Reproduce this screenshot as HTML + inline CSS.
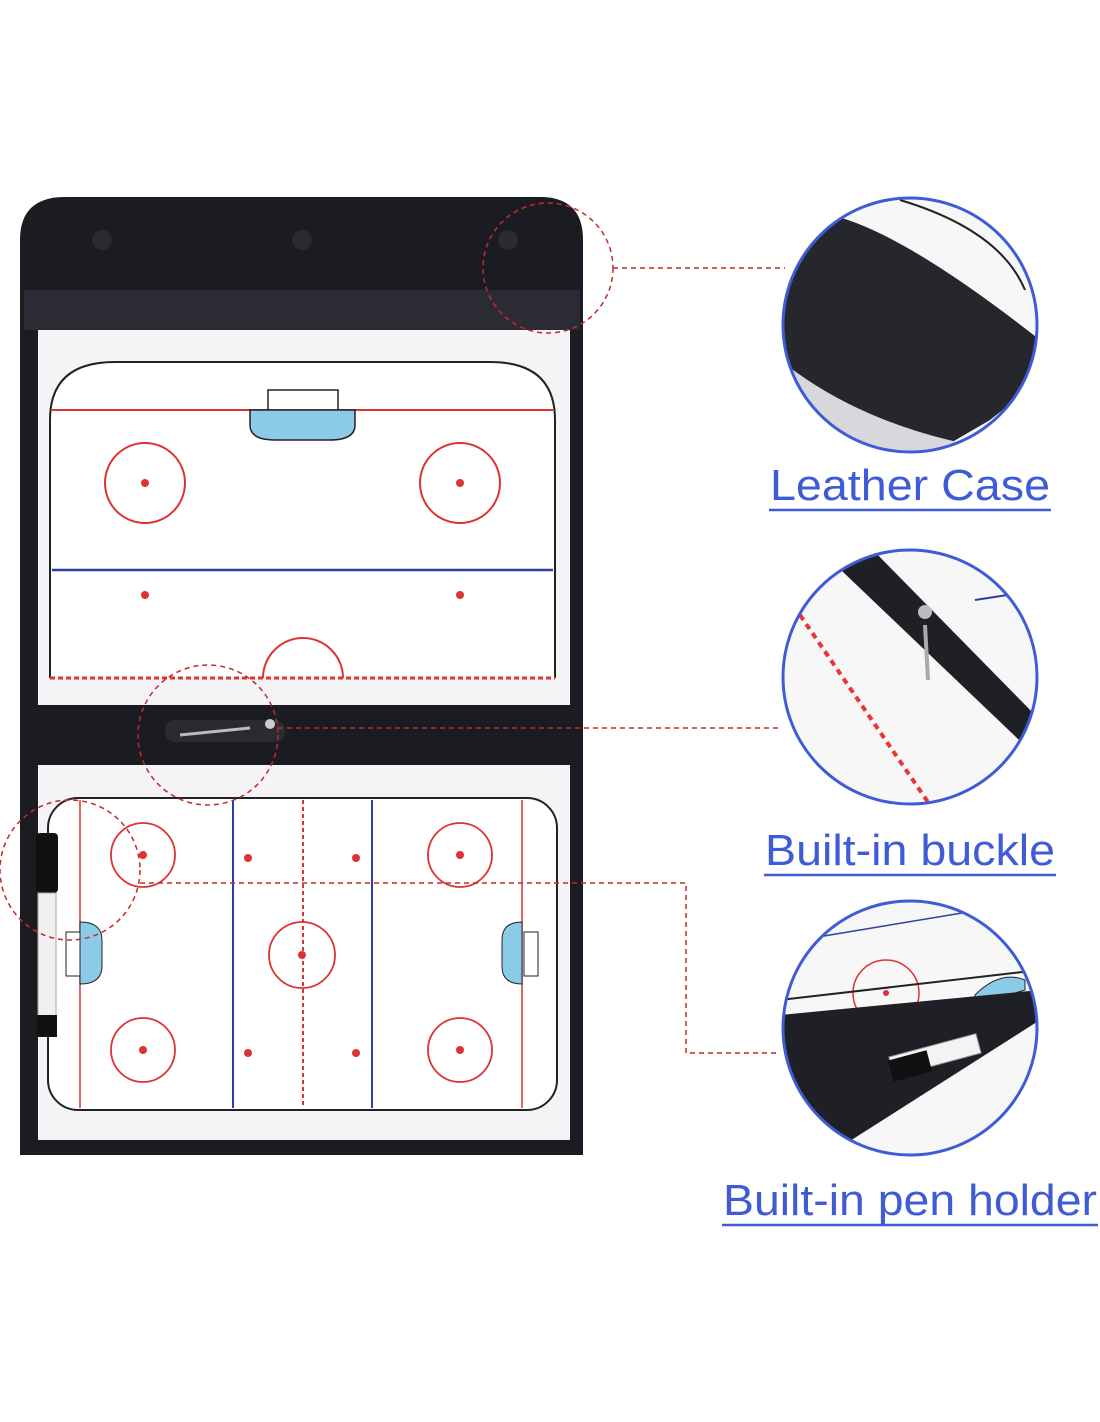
<!DOCTYPE html>
<html><head><meta charset="utf-8"><style>
html,body{margin:0;padding:0;background:#fff;}
svg{display:block}
</style></head><body>
<svg width="1100" height="1422" viewBox="0 0 1100 1422" xmlns="http://www.w3.org/2000/svg" font-family="Liberation Sans, sans-serif">
<defs>
<clipPath id="c1"><circle cx="910" cy="325" r="127"/></clipPath>
<clipPath id="c2"><circle cx="910" cy="677" r="127"/></clipPath>
<clipPath id="c3"><circle cx="910" cy="1028" r="127"/></clipPath>
</defs>
<path d="M20 240 Q20 197 65 197 L540 197 Q583 197 583 240 L583 1155 L20 1155 Z" fill="#1b1c22"/>
<rect x="24" y="290" width="556" height="40" fill="#2b2c33"/>
<circle cx="102" cy="240" r="10" fill="#2a2b31"/><circle cx="302" cy="240" r="10" fill="#2a2b31"/><circle cx="508" cy="240" r="10" fill="#2a2b31"/>
<rect x="38" y="330" width="532" height="375" fill="#f4f4f6"/>
<path d="M50 678 L50 420 Q50 362 115 362 L490 362 Q555 362 555 420 L555 678" fill="#fff" stroke="#222" stroke-width="2"/>
<line x1="52" y1="410" x2="553" y2="410" stroke="#d33" stroke-width="2"/>
<rect x="268" y="390" width="70" height="20" fill="#fff" stroke="#222" stroke-width="1.5"/>
<path d="M250 410 L355 410 L355 425 Q355 440 330 440 L275 440 Q250 440 250 425 Z" fill="#8ccbe8" stroke="#222" stroke-width="1.5"/>
<circle cx="145" cy="483" r="40" fill="none" stroke="#d33" stroke-width="2"/><circle cx="145" cy="483" r="4" fill="#d33"/>
<circle cx="460" cy="483" r="40" fill="none" stroke="#d33" stroke-width="2"/><circle cx="460" cy="483" r="4" fill="#d33"/>
<line x1="52" y1="570" x2="553" y2="570" stroke="#2b3fa6" stroke-width="2.5"/>
<circle cx="145" cy="595" r="4" fill="#d33"/><circle cx="460" cy="595" r="4" fill="#d33"/>
<path d="M263 678 A40 40 0 0 1 343 678" fill="none" stroke="#d33" stroke-width="2"/>
<line x1="50" y1="678" x2="555" y2="678" stroke="#d33" stroke-width="3" stroke-dasharray="5 3"/>
<rect x="20" y="705" width="563" height="60" fill="#1b1c22"/>
<rect x="165" y="720" width="120" height="22" rx="10" fill="#2a2b31"/>
<circle cx="270" cy="724" r="5" fill="#ccc"/>
<path d="M180 735 L250 728" stroke="#bbb" stroke-width="3"/>
<rect x="38" y="765" width="532" height="375" fill="#f4f4f6"/>
<rect x="48" y="798" width="509" height="312" rx="30" fill="#fff" stroke="#222" stroke-width="2"/>
<line x1="80" y1="800" x2="80" y2="1108" stroke="#d33" stroke-width="1.5"/>
<line x1="522" y1="800" x2="522" y2="1108" stroke="#d33" stroke-width="1.5"/>
<line x1="233" y1="800" x2="233" y2="1108" stroke="#2b3fa6" stroke-width="2"/>
<line x1="372" y1="800" x2="372" y2="1108" stroke="#2b3fa6" stroke-width="2"/>
<line x1="303" y1="800" x2="303" y2="1108" stroke="#d33" stroke-width="2" stroke-dasharray="4 3"/>
<g fill="none" stroke="#d33" stroke-width="1.8">
<circle cx="143" cy="855" r="32"/><circle cx="460" cy="855" r="32"/>
<circle cx="143" cy="1050" r="32"/><circle cx="460" cy="1050" r="32"/>
<circle cx="302" cy="955" r="33"/></g>
<g fill="#d33">
<circle cx="143" cy="855" r="4"/><circle cx="460" cy="855" r="4"/><circle cx="143" cy="1050" r="4"/><circle cx="460" cy="1050" r="4"/><circle cx="302" cy="955" r="4"/>
<circle cx="248" cy="858" r="4"/><circle cx="356" cy="858" r="4"/><circle cx="248" cy="1053" r="4"/><circle cx="356" cy="1053" r="4"/></g>
<rect x="66" y="932" width="14" height="44" fill="#fff" stroke="#222"/>
<path d="M80 922 Q102 922 102 940 L102 966 Q102 984 80 984 Z" fill="#8ccbe8" stroke="#222"/>
<rect x="524" y="932" width="14" height="44" fill="#fff" stroke="#222"/>
<path d="M522 922 Q502 922 502 940 L502 966 Q502 984 522 984 Z" fill="#8ccbe8" stroke="#222"/>
<rect x="36" y="833" width="22" height="60" rx="4" fill="#111"/>
<rect x="38" y="893" width="18" height="125" fill="#f0f0f0" stroke="#aaa"/>
<rect x="37" y="1015" width="20" height="22" fill="#111"/>
<g fill="none" stroke="#c62828" stroke-width="1.5" stroke-dasharray="5 4">
<circle cx="548" cy="268" r="65"/>
<circle cx="208" cy="735" r="70"/>
<circle cx="70" cy="870" r="70"/>
<line x1="613" y1="268" x2="785" y2="268"/>
<line x1="278" y1="728" x2="780" y2="728"/>
<polyline points="140,883 686,883 686,1053 780,1053"/>
</g>
<g clip-path="url(#c1)">
<rect x="780" y="195" width="260" height="260" fill="#f7f7f8"/>
<path d="M780 250 L830 215 Q900 230 1040 340 L1040 380 L990 420 L930 455 L780 455 Z" fill="#26272d"/>
<path d="M780 360 Q880 440 1040 455 L1040 460 L780 460 Z" fill="#d8d8dc"/>
<path d="M900 200 Q1000 230 1025 290" stroke="#222" stroke-width="2" fill="none"/>
</g>
<circle cx="910" cy="325" r="127" fill="none" stroke="#3f5bd6" stroke-width="3"/>
<g clip-path="url(#c2)">
<rect x="780" y="547" width="260" height="260" fill="#f7f7f8"/>
<path d="M820 550 L870 547 L1040 720 L1040 760 Z" fill="#1f2026"/>
<line x1="800" y1="615" x2="930" y2="805" stroke="#e33" stroke-width="4" stroke-dasharray="6 5"/>
<circle cx="925" cy="612" r="7" fill="#bbb"/>
<path d="M925 625 L928 680" stroke="#aaa" stroke-width="4"/>
<line x1="975" y1="600" x2="1040" y2="590" stroke="#2b3fa6" stroke-width="2"/>
</g>
<circle cx="910" cy="677" r="127" fill="none" stroke="#3f5bd6" stroke-width="3"/>
<g clip-path="url(#c3)">
<rect x="780" y="900" width="260" height="260" fill="#f7f7f8"/>
<line x1="800" y1="940" x2="1040" y2="900" stroke="#2b3fa6" stroke-width="1.5"/>
<circle cx="886" cy="993" r="33" fill="none" stroke="#d33" stroke-width="1.5"/>
<circle cx="886" cy="993" r="3" fill="#d33"/>
<path d="M975 995 Q1000 970 1025 980 L1025 990 L975 1005 Z" fill="#8ccbe8" stroke="#222"/>
<path d="M780 1015 L1040 990 L1040 1020 L820 1160 L780 1160 Z" fill="#1f2026"/>
<path d="M780 1000 L1040 970" stroke="#222" stroke-width="2"/>
<rect x="890" y="1045" width="90" height="20" transform="rotate(-15 935 1055)" fill="#f3f3f3" stroke="#999"/>
<rect x="890" y="1055" width="40" height="22" transform="rotate(-15 910 1066)" fill="#111"/>
</g>
<circle cx="910" cy="1028" r="127" fill="none" stroke="#3f5bd6" stroke-width="3"/>
<g fill="#3f5bd6" font-size="44">
<text x="770" y="500" textLength="280" lengthAdjust="spacingAndGlyphs">Leather Case</text>
<text x="765" y="865" textLength="290" lengthAdjust="spacingAndGlyphs">Built-in buckle</text>
<text x="723" y="1215" textLength="374" lengthAdjust="spacingAndGlyphs">Built-in pen holder</text>
</g>
<g stroke="#3f5bd6" stroke-width="2.5">
<line x1="769" y1="510" x2="1051" y2="510"/>
<line x1="764" y1="875" x2="1056" y2="875"/>
<line x1="722" y1="1225" x2="1098" y2="1225"/>
</g>
</svg>
</body></html>
